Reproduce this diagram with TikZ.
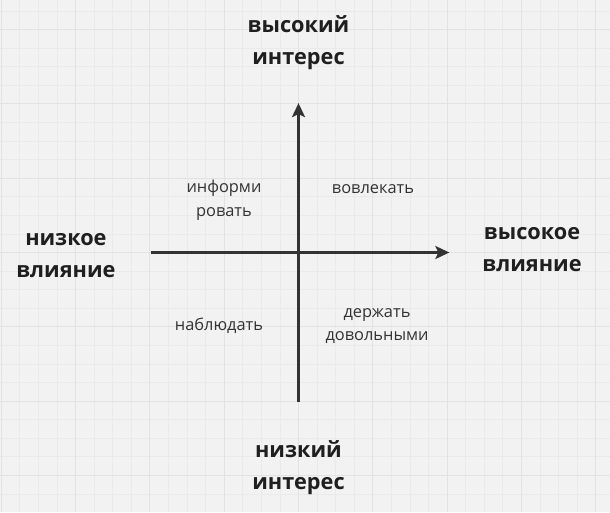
\documentclass[tikz,border=0pt]{standalone}
\usepackage{fontspec}
\setmainfont{Open Sans}
\usetikzlibrary{arrows.meta}
\definecolor{paper}{HTML}{F2F2F2}
\definecolor{gridlo}{HTML}{EAEAEA}
\definecolor{gridhi}{HTML}{E2E2E2}
\definecolor{ink}{HTML}{333333}
\tikzset{>={Stealth[length=14pt,width=13pt,inset=3pt]}}
\tikzset{
  axislabel/.style={align=center, anchor=base, text=black!88, font=\bfseries\fontsize{21.7}{32}\selectfont},
  quadlabel/.style={align=center, anchor=base, text=ink, font=\fontsize{16.4}{23.5}\selectfont}
}
\begin{document}
\begin{tikzpicture}[x=74.3pt, y=74.3pt]
     \fill[paper] (-4.017,-3.493) rectangle (4.192,3.398);
     \useasboundingbox (-4.017,-3.493) rectangle (4.192,3.398);
     \draw[gridlo, line width=0.8pt, step=0.25] (-4.017,-3.493) grid (4.192,3.398);
     \draw[gridhi, line width=1.1pt, step=1] (-4.017,-3.493) grid (4.192,3.398);
     \coordinate (west) at (-1.99,0);
     \coordinate (east) at (2.03,0);
     \coordinate (south) at (0,-2.01);
     \coordinate (north) at (0,2.01);
     \draw[->, ink, line width=2.5pt] (west) -- (east);
     \draw[->, ink, line width=2.5pt] (south) -- (north);
     \node[axislabel] (highint) at (0,2.524) {высокий\\интерес};
     \node[axislabel] (lowint) at (0,-3.196) {низкий\\интерес};
     \node[axislabel] (lowinf) at (-3.13,-0.343) {низкое\\влияние};
     \node[axislabel] (highinf) at (3.143,-0.262) {высокое\\влияние};
     \node[quadlabel] (inform) at (-1.003,0.49) {информи\\ровать};
     \node[quadlabel] (engage) at (1.003,0.80) {вовлекать};
     \node[quadlabel] (monitor) at (-1.07,-1.043) {наблюдать};
     \node[quadlabel] (satisfy) at (1.057,-1.19) {держать\\довольными};
\end{tikzpicture}
\end{document}
